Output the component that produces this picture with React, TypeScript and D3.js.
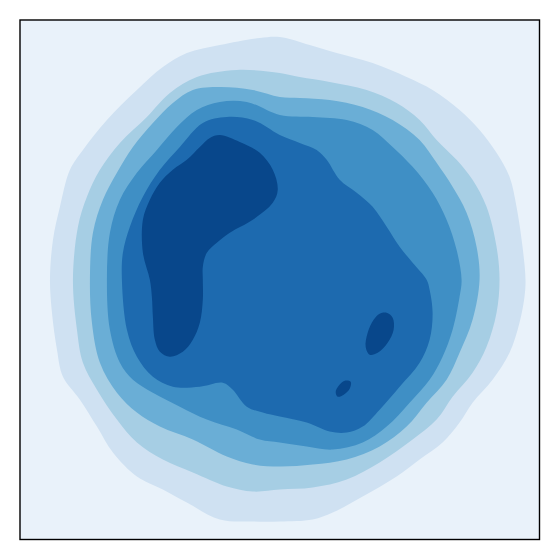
import React from "react";
import * as d3 from "d3";

type Pt = [number, number];

// contour level fill colours, outermost (lowest density) first
const levelColors = ["#e9f2fa", "#cfe1f2", "#a6cee4", "#6aaed6", "#3f8fc5", "#1d6aaf", "#08478b"];

// contour boundaries (data units, 0..52 on both axes)
const level1Ring: Pt[] = [
  [26.0, 50.3], [24.0, 50.2], [20.0, 49.5], [16.7, 48.7], [14.3, 47.3], [11.7, 45.0], [8.7, 42.0],
  [6.3, 39.0], [5.0, 37.0], [4.0, 33.3], [3.3, 30.0], [3.0, 26.0], [3.2, 22.7], [3.7, 19.0],
  [4.3, 16.3], [6.0, 14.0], [7.7, 11.3], [9.3, 8.7], [11.7, 6.3], [14.3, 5.0], [16.7, 3.7],
  [20.0, 2.0], [23.3, 1.8], [26.0, 1.8], [29.3, 2.0], [31.3, 2.7], [34.3, 4.3], [37.7, 6.3],
  [40.0, 8.0], [42.3, 9.7], [44.0, 11.7], [45.3, 13.7], [47.3, 16.0], [49.0, 18.7], [50.0, 21.7],
  [50.5, 24.3], [50.6, 26.0], [50.3, 29.3], [49.7, 33.3], [49.0, 36.3], [47.7, 38.7], [46.0, 41.0],
  [44.0, 43.0], [41.3, 45.0], [38.7, 46.3], [35.3, 47.7], [31.7, 48.7], [29.0, 49.5],
];

const level2Ring: Pt[] = [
  [26.0, 46.7], [21.7, 47.0], [17.7, 46.3], [15.0, 44.7], [12.7, 42.3], [10.0, 39.7], [8.0, 37.0],
  [6.7, 34.3], [5.8, 31.3], [5.3, 26.0], [5.7, 21.0], [6.3, 17.7], [7.7, 15.0], [9.7, 12.0],
  [11.7, 9.7], [14.3, 8.0], [17.3, 6.7], [20.7, 5.3], [23.3, 4.8], [26.0, 5.0], [29.3, 5.2],
  [32.7, 6.0], [36.0, 7.7], [39.3, 10.0], [41.7, 12.0], [43.3, 14.3], [45.3, 16.7], [46.7, 19.3],
  [47.7, 22.7], [48.0, 26.0], [47.7, 29.3], [46.7, 33.3], [45.3, 36.0], [43.7, 38.0], [41.7, 40.0],
  [40.0, 42.0], [37.7, 43.7], [34.7, 45.0], [31.0, 45.8], [28.0, 46.3],
];

const level3Ring: Pt[] = [
  [26.0, 44.3], [23.3, 45.0], [20.0, 45.3], [17.3, 45.0], [15.3, 43.7], [13.3, 41.7], [11.3, 39.3],
  [9.7, 36.7], [8.3, 34.0], [7.3, 30.7], [7.0, 26.0], [7.2, 21.7], [8.0, 17.7], [9.7, 14.7],
  [11.7, 12.7], [14.0, 11.3], [17.3, 10.0], [20.7, 8.3], [23.3, 7.5], [26.0, 7.3], [29.3, 7.5],
  [32.7, 8.0], [36.0, 9.3], [38.7, 11.3], [40.7, 13.7], [42.7, 16.0], [44.0, 18.7], [45.3, 22.0],
  [46.0, 26.0], [45.7, 29.3], [44.7, 32.7], [43.3, 35.3], [41.7, 37.7], [40.0, 40.0], [37.3, 42.0],
  [34.3, 43.3], [31.0, 44.0], [28.0, 44.2],
];

const level4Ring: Pt[] = [
  [26.0, 42.5], [22.7, 43.8], [20.0, 43.8], [17.7, 43.0], [15.7, 41.3], [13.7, 39.0], [11.7, 36.7],
  [10.0, 34.0], [9.0, 30.7], [8.7, 26.0], [9.0, 21.0], [10.0, 17.7], [11.3, 16.0], [13.3, 14.7],
  [16.0, 13.3], [18.7, 12.0], [21.7, 11.0], [24.0, 10.0], [26.0, 9.7], [28.7, 9.3], [31.3, 9.0],
  [34.3, 9.7], [36.7, 11.3], [39.0, 13.7], [41.0, 16.0], [42.3, 18.3], [43.3, 21.0], [44.0, 24.3],
  [44.2, 26.0], [43.7, 29.0], [42.7, 32.0], [41.3, 34.7], [39.3, 37.3], [37.3, 39.3], [35.3, 41.0],
  [32.7, 42.0], [29.3, 42.3],
];

const level5Ring: Pt[] = [
  [26.0, 40.5], [23.3, 42.0], [20.7, 42.3], [18.3, 41.7], [16.0, 39.3], [14.0, 37.0], [12.3, 34.3],
  [11.0, 31.3], [10.3, 28.7], [10.2, 26.0], [10.7, 21.0], [11.7, 18.3], [13.3, 16.3], [15.3, 15.3],
  [18.0, 15.3], [20.3, 15.7], [21.3, 15.0], [22.7, 13.3], [24.3, 12.7], [26.0, 12.3], [28.7, 11.7],
  [31.0, 10.8], [32.7, 10.7], [34.3, 11.3], [36.0, 13.0], [38.0, 15.3], [40.0, 17.7], [41.0, 20.0],
  [41.3, 22.7], [41.0, 25.0], [40.7, 26.0], [39.3, 27.7], [38.0, 29.3], [36.7, 31.3], [35.3, 33.3],
  [33.7, 34.7], [32.0, 36.0], [30.7, 38.0], [29.7, 39.0], [28.0, 39.7],
];

const level6Main: Pt[] = [
  [20.0, 40.5], [22.0, 39.8], [24.0, 38.7], [25.3, 37.0], [25.8, 35.0], [25.3, 33.7], [23.3, 32.0],
  [21.0, 30.7], [19.7, 29.7], [18.7, 28.7], [18.3, 27.3], [18.3, 26.0], [18.3, 24.0], [18.0, 21.7],
  [17.3, 20.0], [16.3, 18.8], [15.0, 18.3], [14.0, 18.8], [13.5, 20.0], [13.3, 22.3], [13.2, 24.3],
  [13.0, 26.0], [12.3, 28.7], [12.3, 32.0], [13.0, 34.0], [14.0, 35.7], [15.3, 37.0], [16.7, 38.0],
  [18.0, 39.3], [19.0, 40.2],
];

const level6Right: Pt[] = [
  [36.7, 22.7], [37.3, 22.2], [37.4, 21.0], [36.8, 19.7], [35.8, 18.7], [35.0, 18.5], [34.6, 19.3],
  [34.8, 20.7], [35.4, 22.0], [36.0, 22.6],
];

const level6Small: Pt[] = [
  [33.1, 15.8], [33.0, 15.1], [32.4, 14.5], [31.8, 14.3], [31.6, 14.8], [31.9, 15.4], [32.5, 15.9],
];

const contourRings: Pt[][][] = [
  [level1Ring],
  [level2Ring],
  [level3Ring],
  [level4Ring],
  [level5Ring],
  [level6Main, level6Right, level6Small],
];

const W = 560;
const H = 560;
const left = 20, top = 20, right = 539.5, bottom = 539.5;

export default function App() {
  const x = d3.scaleLinear().domain([0, 52]).range([left, right]);
  const y = d3.scaleLinear().domain([0, 52]).range([bottom, top]);

  const line = d3
    .line<Pt>()
    .x((d) => x(d[0]))
    .y((d) => y(d[1]))
    .curve(d3.curveCatmullRomClosed.alpha(0.5));

  return (
    <div style={{ position: "absolute", left: 0, top: 0 }}>
      <svg width={W} height={H} style={{ display: "block", background: "#fff" }}>
        <defs>
          <clipPath id="plot">
            <rect x={left} y={top} width={right - left} height={bottom - top} />
          </clipPath>
        </defs>
        <g clipPath="url(#plot)">
          <rect x={left} y={top} width={right - left} height={bottom - top} fill={levelColors[0]} />
          {contourRings.map((rings, i) =>
            rings.map((ring, j) => (
              <path key={`${i}-${j}`} d={line(ring) ?? ""} fill={levelColors[i + 1]} />
            ))
          )}
        </g>
        <rect
          x={left}
          y={top}
          width={right - left}
          height={bottom - top}
          fill="none"
          stroke="#000"
          strokeWidth={1.4}
        />
      </svg>
    </div>
  );
}
